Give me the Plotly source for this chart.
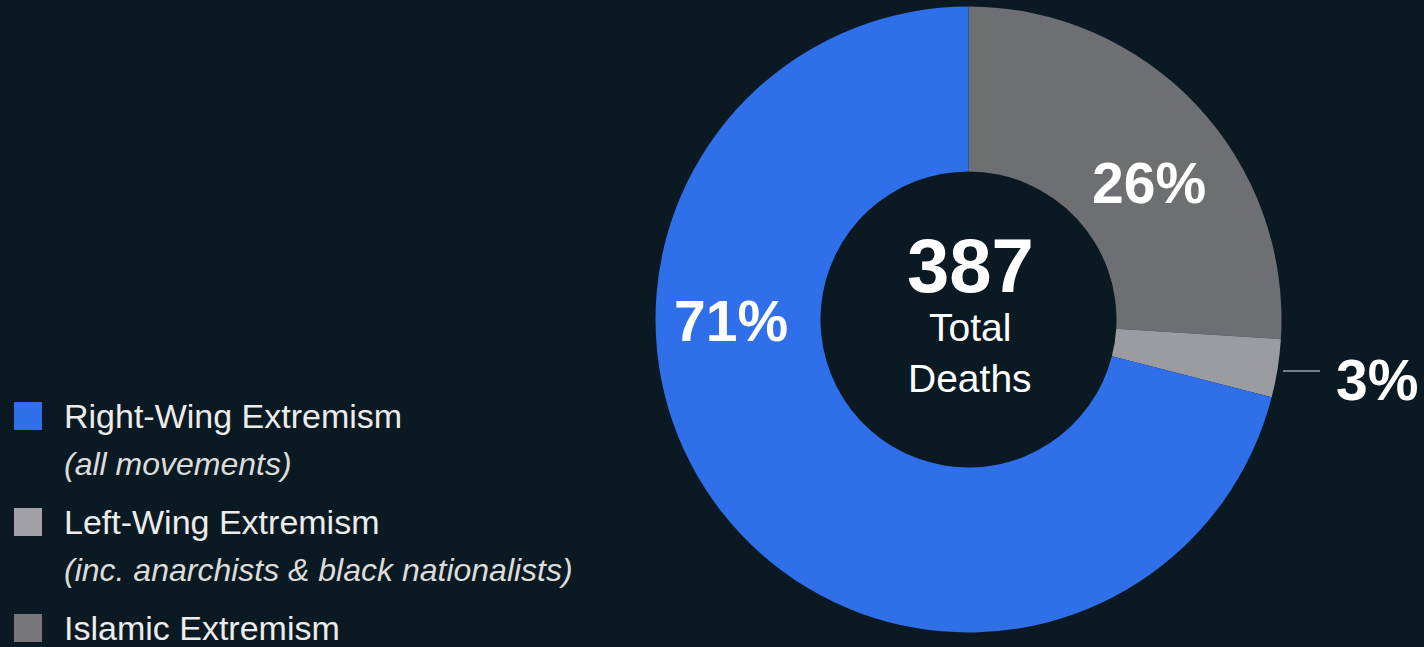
import plotly.graph_objects as go

# ---- data (legend order) ----
categories = ["Right-Wing Extremism", "Left-Wing Extremism", "Islamic Extremism"]
subtitles = ["(all movements)", "(inc. anarchists & black nationalists)", ""]
shares = [71, 3, 26]
pct_labels = ["71%", "3%", "26%"]
total_deaths = 387
center_lines = ["Total", "Deaths"]
colors = ["#2f6fe9", "#9b9ca2", "#6e6f73"]
legend_colors = ["#2f6fe9", "#a0a0a6", "#77777c"]

W, H = 1424, 647
BG = "#0b1a22"
FONT = "Liberation Sans"


def px(x):
    return x / W


def py(y):
    return 1 - y / H


# pie geometry (pixels)
cx, cy, R = 968.5, 319.5, 313
hole = 148 / 313

# slices are drawn clockwise from 12 o'clock: Islamic, Left-Wing, Right-Wing
order = [2, 1, 0]
fig = go.Figure()
fig.add_trace(go.Pie(
    labels=[categories[i] for i in order],
    values=[shares[i] for i in order],
    sort=False,
    direction="clockwise",
    rotation=0,
    hole=hole,
    marker=dict(colors=[colors[i] for i in order], line=dict(width=0)),
    textinfo="none",
    hoverinfo="label+percent",
    showlegend=False,
    domain=dict(x=[px(cx - R), px(cx + R)], y=[py(cy + R), py(cy - R)]),
))

annotations = []
shapes = []

# percentage labels
pct_pos = {"71%": (731, 321), "26%": (1149, 183), "3%": (1377, 380)}
for lab in pct_labels:
    x, y = pct_pos[lab]
    annotations.append(dict(
        x=px(x), y=py(y), xref="paper", yref="paper", text=lab, showarrow=False,
        xanchor="center", yanchor="middle",
        font=dict(family=FONT, size=57, color="#ffffff", weight="bold"),
    ))

# leader line for the small slice
shapes.append(dict(type="line", xref="paper", yref="paper",
                   x0=px(1283), x1=px(1320), y0=py(371), y1=py(371),
                   line=dict(color="#9aa0a4", width=1.5)))

# center text
annotations.append(dict(x=px(970), y=py(266), xref="paper", yref="paper",
                        text=str(total_deaths), showarrow=False,
                        xanchor="center", yanchor="middle",
                        font=dict(family=FONT, size=76, color="#ffffff", weight="bold")))
for txt, yy in zip(center_lines, [327, 378]):
    annotations.append(dict(x=px(970), y=py(yy), xref="paper", yref="paper",
                            text=txt, showarrow=False,
                            xanchor="center", yanchor="middle",
                            font=dict(family=FONT, size=39, color="#ffffff")))

# custom legend (order: Right, Left, Islamic)
leg_y0, leg_pitch, sub_dy = 416, 106, 48
for i, (cat, sub, col) in enumerate(zip(categories, subtitles, legend_colors)):
    yc = leg_y0 + i * leg_pitch
    shapes.append(dict(type="rect", xref="paper", yref="paper",
                       x0=px(14), x1=px(42), y0=py(yc - 14), y1=py(yc + 14),
                       fillcolor=col, line=dict(width=0)))
    annotations.append(dict(x=px(62), y=py(yc), xref="paper", yref="paper",
                            text=cat, showarrow=False, xanchor="left", yanchor="middle",
                            font=dict(family=FONT, size=34, color="#ececec")))
    if sub:
        annotations.append(dict(x=px(62), y=py(yc + sub_dy), xref="paper", yref="paper",
                                text="<i>" + sub + "</i>", showarrow=False,
                                xanchor="left", yanchor="middle",
                                font=dict(family=FONT, size=32, color="#dcdcdc")))

fig.update_layout(
    width=W, height=H,
    margin=dict(l=0, r=0, t=0, b=0, autoexpand=False),
    paper_bgcolor=BG, plot_bgcolor=BG,
    showlegend=False,
    annotations=annotations,
    shapes=shapes,
)

fig.write_html("out.html")
